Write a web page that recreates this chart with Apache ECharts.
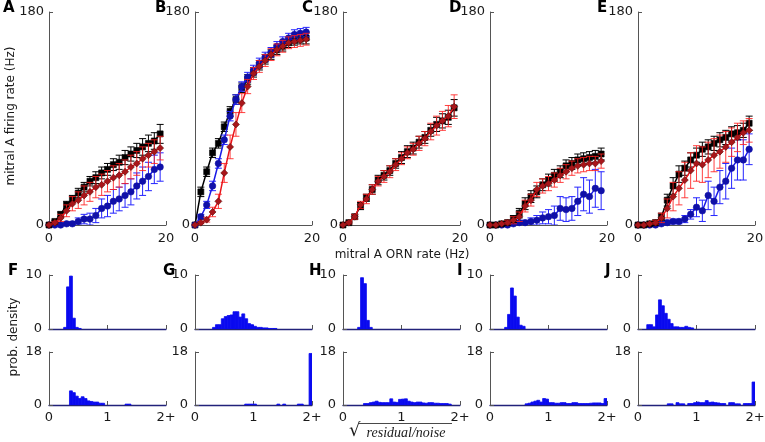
<!DOCTYPE html>
<html>
<head>
<meta charset="utf-8">
<script src="https://cdn.jsdelivr.net/npm/echarts@6/dist/echarts.min.js"></script>
<style>
  html, body { margin: 0; padding: 0; background: #fff; }
  #main { width: 765px; height: 442px; }
</style>
</head>
<body>
<div id="main"></div>
<script>
// ORN rate (Hz) on the x axis, same for every top panel
var orn = [0, 1, 2, 3, 4, 5, 6, 7, 8, 9, 10, 11, 12, 13, 14, 15, 16, 17, 18, 19];

// panel A
var blackA = [0, 3, 9, 17, 22, 27, 32, 37, 40, 44, 47, 51, 53, 57, 60, 63, 66, 69, 71, 77];
var blackAErr = [0.5, 1, 2, 3, 3, 4, 4, 4, 5, 5, 5, 5, 6, 6, 6, 6, 7, 7, 7, 8];
var blueA = [0, 0, 0, 1, 1, 3, 5, 5, 8, 14, 16, 20, 22, 25, 28, 33, 37, 41, 47, 49];
var blueAErr = [0.3, 0.5, 1, 1, 2, 3, 4, 5, 6, 8, 9, 10, 10, 10, 11, 11, 12, 12, 12, 12];
var redA = [0, 2, 6, 12, 18, 21, 25, 28, 32, 34, 37, 40, 42, 45, 49, 52, 56, 59, 62, 65];
var redAErr = [0.5, 1, 3, 5, 6, 7, 8, 8, 9, 9, 9, 10, 10, 10, 10, 10, 10, 10, 10, 10];

// panel B
var blackB = [0, 28, 45, 61, 69, 83, 96, 106, 116, 123, 129, 135, 140, 144, 148, 151, 154, 156, 157, 158];
var blackBErr = [0.5, 4, 4, 4, 4, 4, 4, 4, 4, 4, 4, 4, 4, 4, 4, 4, 4, 4, 4, 5];
var blueB = [0, 7, 17, 33, 52, 72, 92, 106, 117, 125, 131, 137, 142, 146, 151, 155, 158, 161, 162, 163];
var blueBErr = [0.5, 2, 3, 4, 4, 4, 4, 4, 4, 4, 4, 4, 4, 4, 4, 4, 4, 4, 4, 4];
var redB = [0, 2, 4.5, 11, 20, 44, 66, 85, 103, 117, 128, 134, 139, 144, 148, 151, 154, 155, 156, 157];
var redBErr = [0.5, 1, 2, 4, 6, 8, 10, 10, 8, 6, 5, 5, 5, 5, 5, 5, 5, 5, 5, 5];

// panel C
var blackC = [0, 2, 7, 16, 23, 30, 38, 42, 46, 52, 57, 62, 65, 70, 74, 80, 85, 88, 91, 99];
var blackCErr = [0.5, 1, 2, 3, 3, 4, 4, 4, 4, 4, 5, 5, 5, 5, 5, 5, 6, 6, 6, 7];
var redC = [0, 2, 7, 17, 22, 30, 37, 41, 45, 51, 56, 61, 64, 69, 73, 79, 84, 88, 92, 100];
var redCErr = [0.5, 1, 2, 3, 4, 4, 4, 5, 5, 5, 5, 5, 5, 6, 6, 7, 8, 8, 9, 10];

// panel D
var blackD = [0, 0, 1, 2, 5, 10, 18, 24, 28, 34, 38, 42, 45, 50, 52, 55, 56, 57, 58, 60];
var blackDErr = [0.3, 0.5, 1, 2, 3, 4, 5, 5, 5, 5, 5, 5, 5, 5, 5, 5, 5, 5, 5, 5];
var blueD = [0, 0, 0, 0, 1, 2, 2, 3, 4, 6, 7, 8, 14, 13, 14, 20, 26, 24, 31, 29];
var blueDErr = [0.2, 0.3, 0.5, 0.5, 1, 2, 2, 3, 4, 5, 6, 8, 10, 10, 10, 12, 14, 14, 16, 16];
var redD = [0, 0, 1, 2, 4, 7, 16, 21, 30, 33, 35, 38, 42, 45, 48, 50, 51, 52, 52, 54];
var redDErr = [0.3, 0.5, 1, 2, 3, 4, 5, 5, 6, 6, 6, 6, 6, 6, 6, 6, 6, 6, 6, 6];

// panel E
var blackE = [0, 0, 1, 2, 7, 21, 33, 43, 48, 55, 59, 64, 66, 69, 72, 74, 77, 78, 80, 86];
var blackEErr = [0.3, 0.5, 1, 2, 3, 5, 7, 7, 6, 6, 6, 6, 6, 6, 6, 6, 6, 6, 6, 6];
var blueE = [0, 0, 0, 0, 1, 2, 3, 3, 5, 9, 15, 12, 25, 20, 32, 37, 48, 55, 55, 64];
var blueEErr = [0.2, 0.3, 0.5, 0.5, 1, 2, 2, 2, 3, 4, 8, 9, 12, 12, 14, 15, 17, 17, 17, 13];
var redE = [0, 0, 1, 2, 6, 14, 24, 31, 38, 46, 52, 51, 55, 59, 62, 66, 70, 74, 78, 80];
var redEErr = [0.3, 0.5, 1, 2, 4, 8, 12, 14, 15, 15, 15, 15, 15, 14, 14, 13, 12, 12, 10, 10];

// histograms: [bin start, prob. density], bin width 0.05, last bin = 2+
var histF1 = [[0.25, 0.3], [0.3, 7.8], [0.35, 9.8], [0.4, 2], [0.45, 0.3], [0.5, 0.1]];
var histF2 = [[0.35, 4.8], [0.4, 4.2], [0.45, 3.0], [0.5, 2.2], [0.55, 2.8], [0.6, 2.2], [0.65, 1.4], [0.7, 1.2],
  [0.75, 1.0], [0.8, 1.0], [0.85, 0.6], [0.9, 0.6], [1.3, 0.3], [1.35, 0.3]];
var histG1 = [[0.3, 0.3], [0.35, 0.8], [0.4, 0.8], [0.45, 1.9], [0.5, 2.3], [0.55, 2.5], [0.6, 2.6], [0.65, 3.2],
  [0.7, 3.2], [0.75, 2.2], [0.8, 2.8], [0.85, 1.9], [0.9, 1.0], [0.95, 0.8], [1.0, 0.5], [1.05, 0.3], [1.1, 0.3],
  [1.15, 0.2], [1.2, 0.2], [1.25, 0.1], [1.3, 0.1], [1.35, 0.1]];
var histG2 = [[0.85, 0.3], [0.9, 0.3], [0.95, 0.3], [1.0, 0.3], [1.4, 0.3], [1.5, 0.3], [1.75, 0.3], [1.8, 0.3], [1.95, 17.5]];
var histH1 = [[0.25, 0.3], [0.3, 9.5], [0.35, 8.4], [0.4, 1.6], [0.45, 0.3]];
var histH2 = [[0.35, 0.5], [0.4, 0.5], [0.45, 0.8], [0.5, 1.0], [0.55, 1.3], [0.6, 0.9], [0.65, 0.8], [0.7, 0.8],
  [0.75, 0.8], [0.8, 2.1], [0.85, 1.0], [0.9, 0.9], [0.95, 1.9], [1.0, 2.0], [1.05, 2.1], [1.1, 1.3], [1.15, 1.0],
  [1.2, 0.8], [1.25, 1.0], [1.3, 1.0], [1.35, 0.7], [1.4, 0.6], [1.45, 0.8], [1.5, 0.8], [1.55, 0.6], [1.6, 0.6],
  [1.65, 0.5], [1.7, 0.5], [1.75, 0.5], [1.8, 0.3]];
var histI1 = [[0.25, 0.3], [0.3, 2.7], [0.35, 7.6], [0.4, 6.1], [0.45, 2.2], [0.5, 0.7], [0.55, 0.5]];
var histI2 = [[0.6, 0.4], [0.65, 0.6], [0.7, 1.0], [0.75, 1.3], [0.8, 1.6], [0.85, 1.0], [0.9, 2.2], [0.95, 2.0],
  [1.0, 0.8], [1.05, 0.8], [1.1, 0.6], [1.15, 0.6], [1.2, 0.8], [1.25, 0.8], [1.3, 0.5], [1.35, 0.5], [1.4, 0.8],
  [1.45, 0.8], [1.5, 0.5], [1.55, 0.5], [1.6, 0.5], [1.65, 0.5], [1.7, 0.6], [1.75, 0.7], [1.8, 0.7], [1.85, 0.7],
  [1.9, 0.5], [1.95, 2.2]];
var histJ1 = [[0.15, 0.8], [0.2, 0.8], [0.25, 0.4], [0.3, 2.6], [0.35, 5.4], [0.4, 4.3], [0.45, 2.9], [0.5, 1.8],
  [0.55, 1.0], [0.6, 0.4], [0.65, 0.4], [0.7, 0.3], [0.75, 0.3], [0.8, 0.5], [0.85, 0.3], [0.9, 0.2]];
var histJ2 = [[0.5, 0.4], [0.55, 0.4], [0.65, 0.8], [0.7, 0.4], [0.75, 0.4], [0.85, 0.5], [0.9, 0.5], [0.95, 0.8],
  [1.0, 1.0], [1.05, 0.8], [1.1, 0.8], [1.15, 1.5], [1.2, 0.9], [1.25, 1.0], [1.3, 0.8], [1.35, 0.7], [1.4, 0.5],
  [1.45, 0.5], [1.55, 0.8], [1.6, 0.8], [1.65, 0.4], [1.7, 0.4], [1.8, 0.5], [1.85, 0.5], [1.9, 0.5], [1.95, 7.8]];

var panelLetters = ['A', 'B', 'C', 'D', 'E'];
var histLetters = ['F', 'G', 'H', 'I', 'J'];
var BIN = 0.05;

var FONT = 'DejaVu Sans';
var lefts = [49, 195, 343, 490, 638];
var chart = echarts.init(document.getElementById('main'), null, { renderer: 'canvas' });

function errRender(params, api) {
  var x = api.value(0), y = api.value(1), e = api.value(2);
  var lo = api.coord([x, Math.max(0, y - e)]);
  var hi = api.coord([x, y + e]);
  var w = 3.5;
  var st = { stroke: api.visual('color'), lineWidth: 1 };
  return {
    type: 'group',
    children: [
      { type: 'line', shape: { x1: lo[0], y1: lo[1], x2: hi[0], y2: hi[1] }, style: st },
      { type: 'line', shape: { x1: lo[0] - w, y1: lo[1], x2: lo[0] + w, y2: lo[1] }, style: st },
      { type: 'line', shape: { x1: hi[0] - w, y1: hi[1], x2: hi[0] + w, y2: hi[1] }, style: st }
    ]
  };
}

function histRender(params, api) {
  var x0 = api.value(0), h = api.value(1);
  var p0 = api.coord([x0, h]);
  var p1 = api.coord([x0 + BIN, 0]);
  return {
    type: 'rect',
    shape: { x: p0[0], y: p0[1], width: p1[0] - p0[0], height: p1[1] - p0[1] },
    style: { fill: '#0a0af0', stroke: '#0a0af0', lineWidth: 0.8 }
  };
}

var axisLineGray = { lineStyle: { color: '#555', width: 1 } };
var tickIn = { inside: true, length: 4, lineStyle: { color: '#555' } };
var lbl = { fontSize: 13, color: '#1a1a1a', fontFamily: FONT };

var grid = [], xAxis = [], yAxis = [], series = [];

// top row: firing-rate curves
var styles = {
  black: { line: '#000000', mark: '#000000', err: '#000000', symbol: 'rect', size: 6 },
  blue: { line: '#1a1ae6', mark: '#1010a8', err: '#2424ff', symbol: 'circle', size: 6.5 },
  red: { line: '#e8141a', mark: '#a8161a', err: 'rgba(255,30,30,0.85)', symbol: 'diamond', size: 7 }
};
var panels = [
  [['blue', blueA, blueAErr], ['black', blackA, blackAErr], ['red', redA, redAErr]],
  [['black', blackB, blackBErr], ['blue', blueB, blueBErr], ['red', redB, redBErr]],
  [['black', blackC, blackCErr], ['red', redC, redCErr]],
  [['blue', blueD, blueDErr], ['black', blackD, blackDErr], ['red', redD, redDErr]],
  [['blue', blueE, blueEErr], ['black', blackE, blackEErr], ['red', redE, redEErr]]
];

for (var i = 0; i < 5; i++) {
  grid.push({ left: lefts[i], top: 12, width: 117, height: 213, outerBoundsMode: 'none' });
  xAxis.push({
    type: 'value', gridIndex: i, min: 0, max: 20, interval: 20,
    axisLine: axisLineGray, axisTick: tickIn, splitLine: { show: false },
    axisLabel: Object.assign({ margin: 7 }, lbl)
  });
  yAxis.push({
    type: 'value', gridIndex: i, min: 0, max: 180, interval: 180,
    axisLine: axisLineGray, axisTick: tickIn, splitLine: { show: false },
    axisLabel: Object.assign({ margin: 5 }, lbl)
  });
  panels[i].forEach(function (s, k) {
    var st = styles[s[0]];
    var vals = s[1], errs = s[2];
    series.push({
      type: 'custom', xAxisIndex: i, yAxisIndex: i, renderItem: errRender, clip: true,
      itemStyle: { color: st.err }, z: 2 + k * 2,
      data: orn.map(function (x, j) { return [x, vals[j], errs[j]]; })
    });
    series.push({
      type: 'line', xAxisIndex: i, yAxisIndex: i, symbol: st.symbol, symbolSize: st.size,
      showSymbol: true, z: 3 + k * 2,
      lineStyle: { color: st.line, width: 1.5 },
      itemStyle: { color: st.mark, borderColor: s[0] === 'red' ? '#5a0808' : st.mark, borderWidth: 0.6 },
      data: orn.map(function (x, j) { return [x, vals[j]]; })
    });
  });
}

// bottom rows: histograms
var histTop = [histF1, histG1, histH1, histI1, histJ1];
var histBot = [histF2, histG2, histH2, histI2, histJ2];
var navyAxis = { lineStyle: { color: '#22227a', width: 1.3 } };
for (var r = 0; r < 2; r++) {
  for (var i = 0; i < 5; i++) {
    var gi = grid.length;
    grid.push({
      left: lefts[i], top: r === 0 ? 275 : 352, width: 117, height: r === 0 ? 54 : 53,
      outerBoundsMode: 'none'
    });
    xAxis.push({
      type: 'value', gridIndex: gi, min: 0, max: 2, interval: 1,
      axisLine: navyAxis, axisTick: tickIn, splitLine: { show: false },
      axisLabel: Object.assign({
        show: r === 1, margin: 6,
        formatter: function (v) { return v === 2 ? '2+' : String(v); }
      }, lbl)
    });
    yAxis.push({
      type: 'value', gridIndex: gi, min: 0, max: r === 0 ? 10 : 18, interval: r === 0 ? 10 : 18,
      axisLine: axisLineGray, axisTick: tickIn, splitLine: { show: false },
      axisLabel: Object.assign({ margin: 7 }, lbl)
    });
    series.push({
      type: 'custom', xAxisIndex: gi, yAxisIndex: gi, renderItem: histRender, clip: true,
      data: (r === 0 ? histTop : histBot)[i]
    });
  }
}

var graphic = [];
var letterX = [3, 155, 302, 449, 597];
var histLetterX = [8, 163, 309, 457, 605];
for (var i = 0; i < 5; i++) {
  graphic.push({ type: 'text', left: letterX[i], top: 1,
    style: { text: panelLetters[i], font: 'bold 15px "DejaVu Sans"', fill: '#000' } });
  graphic.push({ type: 'text', left: histLetterX[i], top: 264,
    style: { text: histLetters[i], font: 'bold 15px "DejaVu Sans"', fill: '#000' } });
}
graphic.push({ type: 'text', x: 11, y: 116, rotation: Math.PI / 2,
  style: { text: 'mitral A firing rate (Hz)', font: '12px "DejaVu Sans"', fill: '#1a1a1a',
    textAlign: 'center', align: 'center', textVerticalAlign: 'middle', verticalAlign: 'middle' } });
graphic.push({ type: 'text', x: 14, y: 337, rotation: Math.PI / 2,
  style: { text: 'prob. density', font: '12px "DejaVu Sans"', fill: '#1a1a1a',
    textAlign: 'center', align: 'center', textVerticalAlign: 'middle', verticalAlign: 'middle' } });
graphic.push({ type: 'text', x: 402, y: 255,
  style: { text: 'mitral A ORN rate (Hz)', font: '12px "DejaVu Sans"', fill: '#1a1a1a',
    textAlign: 'center', align: 'center', textVerticalAlign: 'middle', verticalAlign: 'middle' } });
graphic.push({ type: 'text', x: 349, y: 431,
  style: { text: '√', font: '18px "DejaVu Serif"', fill: '#1a1a1a',
    textAlign: 'left', align: 'left', textVerticalAlign: 'middle', verticalAlign: 'middle' } });
graphic.push({ type: 'line', shape: { x1: 359, y1: 423.5, x2: 452, y2: 423.5 },
  style: { stroke: '#1a1a1a', lineWidth: 0.8 } });
graphic.push({ type: 'text', x: 406, y: 433,
  style: { text: 'residual/noise', font: 'italic 14px "Liberation Serif"', fill: '#1a1a1a',
    textAlign: 'center', align: 'center', textVerticalAlign: 'middle', verticalAlign: 'middle' } });

chart.setOption({
  animation: false,
  backgroundColor: '#fff',
  textStyle: { fontFamily: FONT },
  grid: grid,
  xAxis: xAxis,
  yAxis: yAxis,
  series: series,
  graphic: graphic
});
</script>
</body>
</html>
